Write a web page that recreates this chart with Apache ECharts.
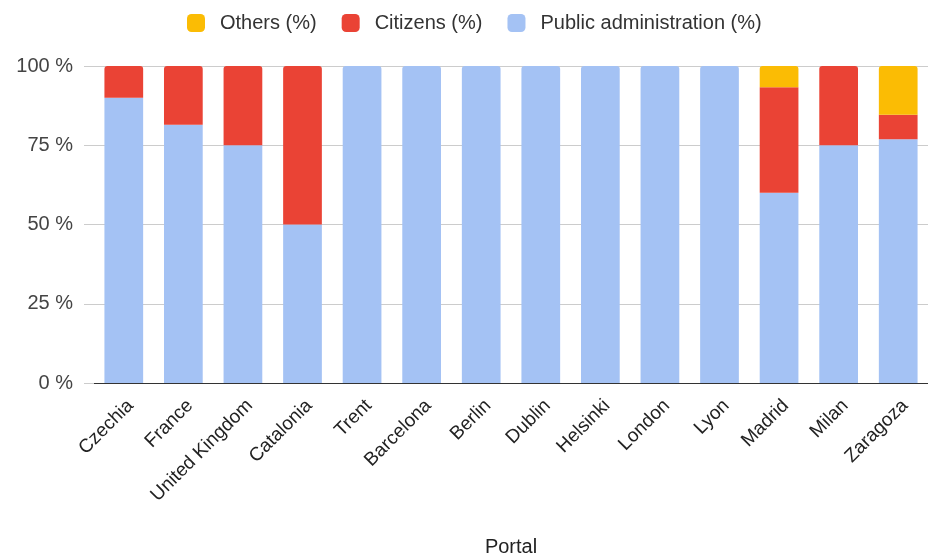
<!DOCTYPE html>
<html>
<head>
<meta charset="utf-8">
<script src="https://cdn.jsdelivr.net/npm/echarts@6/dist/echarts.min.js"></script>
<style>
  html, body { margin: 0; padding: 0; background: #ffffff; }
  #chart { width: 928px; height: 553px; }
</style>
</head>
<body>
<div id="chart"></div>
<script>
// Share of contributors per portal, by type (%)
const portals = ['Czechia', 'France', 'United Kingdom', 'Catalonia', 'Trent', 'Barcelona',
  'Berlin', 'Dublin', 'Helsinki', 'London', 'Lyon', 'Madrid', 'Milan', 'Zaragoza'];
const publicAdmin = [90, 81.5, 75, 50, 100, 100, 100, 100, 100, 100, 100, 60, 75, 76.9];
const citizens    = [10, 18.5, 25, 50, 0, 0, 0, 0, 0, 0, 0, 33.3, 25, 7.7];
const others      = [0, 0, 0, 0, 0, 0, 0, 0, 0, 0, 0, 6.7, 0, 15.4];
const yTicks = [0, 25, 50, 75, 100];

const FONT = '"Liberation Sans", Arial, sans-serif';
const seriesDefs = [
  { name: 'Public administration (%)', values: publicAdmin, color: '#a4c2f4' },
  { name: 'Citizens (%)', values: citizens, color: '#ea4335' },
  { name: 'Others (%)', values: others, color: '#fbbc04' }
];

// round the top corners of whichever segment sits on top of each bar
const topIndex = portals.map((_, i) => {
  let t = 0;
  seriesDefs.forEach((s, k) => { if (s.values[i] > 0) t = k; });
  return t;
});

const chart = echarts.init(document.getElementById('chart'), null, { renderer: 'canvas' });
chart.setOption({
  animation: false,
  textStyle: { fontFamily: FONT },
  legend: {
    top: 8,
    left: 182,
    data: ['Others (%)', 'Citizens (%)', 'Public administration (%)'],
    icon: 'roundRect',
    itemWidth: 18,
    itemHeight: 18,
    itemGap: 25,
    textStyle: { fontSize: 20, color: '#333', fontFamily: FONT, padding: [0, 0, 0, 10] }
  },
  grid: { left: 94, right: 0, top: 66, bottom: 170, containLabel: false, outerBoundsMode: 'none' },
  xAxis: {
    type: 'category',
    data: portals,
    name: 'Portal',
    nameLocation: 'middle',
    nameGap: 154,
    nameTextStyle: { fontSize: 20, color: '#222', fontFamily: FONT },
    axisLine: { show: true, lineStyle: { color: '#333', width: 1 } },
    axisTick: { show: false },
    axisLabel: {
      rotate: 45,
      interval: 0,
      fontSize: 19,
      color: '#222',
      fontFamily: FONT,
      margin: 13,
      verticalAlign: 'top'
    }
  },
  yAxis: {
    type: 'value',
    min: yTicks[0],
    max: yTicks[yTicks.length - 1],
    interval: yTicks[1] - yTicks[0],
    axisLine: { show: false },
    axisTick: { show: true, length: 10, lineStyle: { color: '#cccccc' } },
    axisLabel: {
      formatter: '{value} %',
      fontSize: 20,
      color: '#444',
      fontFamily: FONT,
      margin: 21
    },
    splitLine: { lineStyle: { color: '#cccccc', width: 1 } }
  },
  series: seriesDefs.map((s, k) => ({
    name: s.name,
    type: 'bar',
    stack: 'total',
    barCategoryGap: '35%',
    itemStyle: { color: s.color },
    data: s.values.map((v, i) => ({
      value: v,
      itemStyle: { borderRadius: topIndex[i] === k ? [3, 3, 0, 0] : 0 }
    }))
  }))
});
</script>
</body>
</html>
